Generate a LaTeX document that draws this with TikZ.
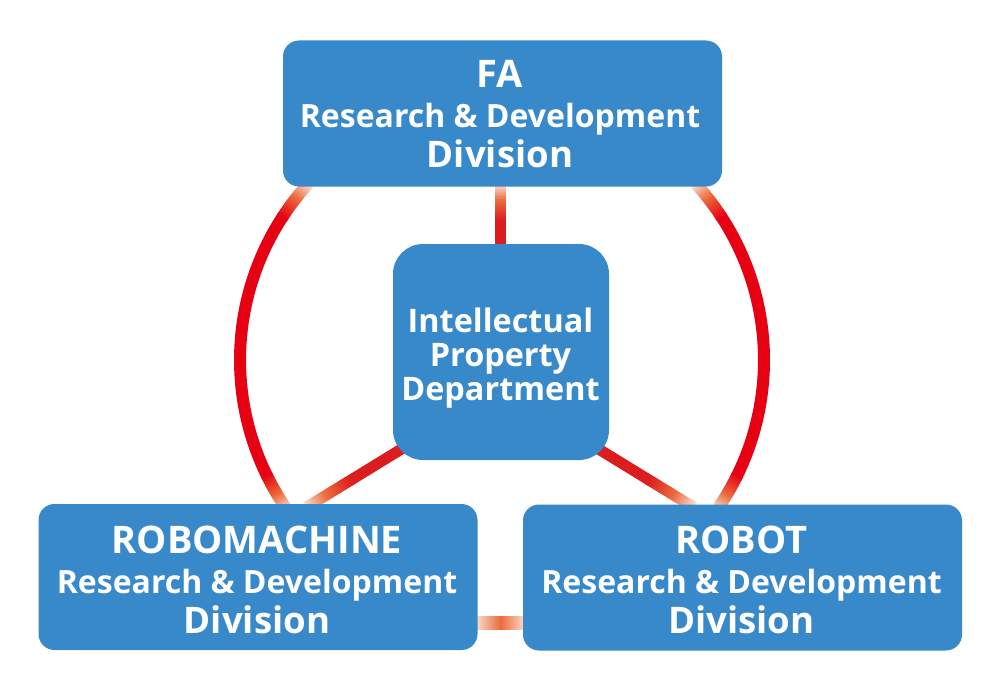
\documentclass[tikz,border=0pt]{standalone}
\usepackage{fontspec}
\setmainfont{Open Sans}
\usetikzlibrary{calc}
\definecolor{boxblue}{HTML}{3889C9}
\definecolor{ringred}{HTML}{E60012}
\definecolor{spokered}{HTML}{DC1D20}
\definecolor{midorange}{HTML}{EC6A3C}
\definecolor{paleend}{HTML}{FBE2D6}
\tikzset{
  divbox/.style={fill=boxblue, draw=none, rounded corners=8pt, minimum width=219.5pt, minimum height=73pt, inner sep=0pt},
  ipdbox/.style={fill=boxblue, draw=none, rounded corners=15pt, minimum width=108pt, minimum height=108pt, inner sep=0pt},
  divtext/.style={text=white, align=center, inner sep=0pt, font=\fontsize{16}{20}\selectfont\bfseries},
  ipdtext/.style={text=white, align=center, inner sep=0pt, font=\fontsize{16.2}{17.2}\selectfont\bfseries},
  ringline/.style={line width=6pt},
  spokeline/.style={line width=5.5pt},
}
\newcommand\bigline[1]{{\fontsize{19}{20}\selectfont #1}}
\newcommand\divline[1]{{\fontsize{18.3}{20}\selectfont #1}}
% gradient along an arc of the ring: #1 angle at box, #2 angle where red is reached
\newcommand\ringgrad[2]{%
  \foreach \i in {0,...,23}{%
    \pgfmathsetmacro\gA{#1+(#2-#1)*\i/24}%
    \pgfmathsetmacro\gB{#1+(#2-#1)*(\i+1.4)/24}%
    \pgfmathsetmacro\gT{(\i+0.5)/24}%
    \pgfmathtruncatemacro\gPa{min(100,100*\gT/0.45)}%
    \pgfmathtruncatemacro\gPb{max(0,100*(\gT-0.45)/0.55)}%
    \colorlet{tmpc}{midorange!\gPa!paleend}%
    \colorlet{segc}{ringred!\gPb!tmpc}%
    \draw[ringline,draw=segc] ($(ringc)+(\gA:262)$) arc[start angle=\gA,end angle=\gB,radius=262];
  }}
% gradient along a straight spoke: #1 point at box, #2 point where red is reached
\newcommand\spokegrad[2]{%
  \foreach \i in {0,...,23}{%
    \pgfmathsetmacro\gA{\i/24}%
    \pgfmathsetmacro\gB{(\i+1.4)/24}%
    \pgfmathsetmacro\gT{(\i+0.5)/24}%
    \pgfmathtruncatemacro\gPa{min(100,100*\gT/0.45)}%
    \pgfmathtruncatemacro\gPb{max(0,100*(\gT-0.45)/0.55)}%
    \colorlet{tmpc}{midorange!\gPa!paleend}%
    \colorlet{segc}{spokered!\gPb!tmpc}%
    \draw[spokeline,draw=segc] ($(#1)!\gA!(#2)$) -- ($(#1)!\gB!(#2)$);
  }}
\begin{document}
\begin{tikzpicture}[x=0.5pt,y=-0.5pt]
\useasboundingbox (0,0) rectangle (1000,690);
\coordinate (ringc) at (502,360);
% ring: left arc
\draw[ringline,draw=ringred] ($(ringc)+(153.5:262)$) arc[start angle=153.5,end angle=213.5,radius=262];
\ringgrad{145}{154}
\ringgrad{222.5}{213}
% ring: right arc
\draw[ringline,draw=ringred] ($(ringc)+(-33.5:262)$) arc[start angle=-33.5,end angle=26.5,radius=262];
\ringgrad{-42.5}{-33}
\ringgrad{35}{26}
% spokes
\coordinate (topA) at (500,184);
\coordinate (topB) at (500,220);
\coordinate (topH) at (500,300);
\draw[spokeline,draw=spokered] (topB) -- (topH);
\spokegrad{topA}{topB}
\coordinate (leftA) at (306,507.5);
\coordinate (leftB) at (351,480);
\coordinate (leftH) at (420,437.6);
\draw[spokeline,draw=spokered] (leftB) -- (leftH);
\spokegrad{leftA}{leftB}
\coordinate (rightA) at (694,507.5);
\coordinate (rightB) at (649,480);
\coordinate (rightH) at (580,437.6);
\draw[spokeline,draw=spokered] (rightB) -- (rightH);
\spokegrad{rightA}{rightB}
% link between bottom boxes
\coordinate (linkL) at (475,623);
\coordinate (linkR) at (526,623);
\shade[left color=paleend, right color=paleend, middle color=midorange] ($(linkL)+(0,-6.5)$) rectangle ($(linkR)+(0,6.5)$);
% boxes
\node[divbox] (fa) at (502.5,113.5) {};
\node[divtext] (fatext) at (500,114.5) {\bigline{FA}\\Research \& Development\\\divline{Division}};
\node[ipdbox] (ipd) at (501,352) {};
\node[ipdtext] (ipdtext) at (500.5,358) {Intellectual\\Property\\Department};
\node[divbox] (rm) at (258,577) {};
\node[divtext] (rmtext) at (257,579.5) {\bigline{ROBOMACHINE}\\Research \& Development\\\divline{Division}};
\node[divbox] (rb) at (742.5,577.5) {};
\node[divtext] (rbtext) at (741.5,579.5) {\bigline{ROBOT}\\Research \& Development\\\divline{Division}};
\end{tikzpicture}
\end{document}
